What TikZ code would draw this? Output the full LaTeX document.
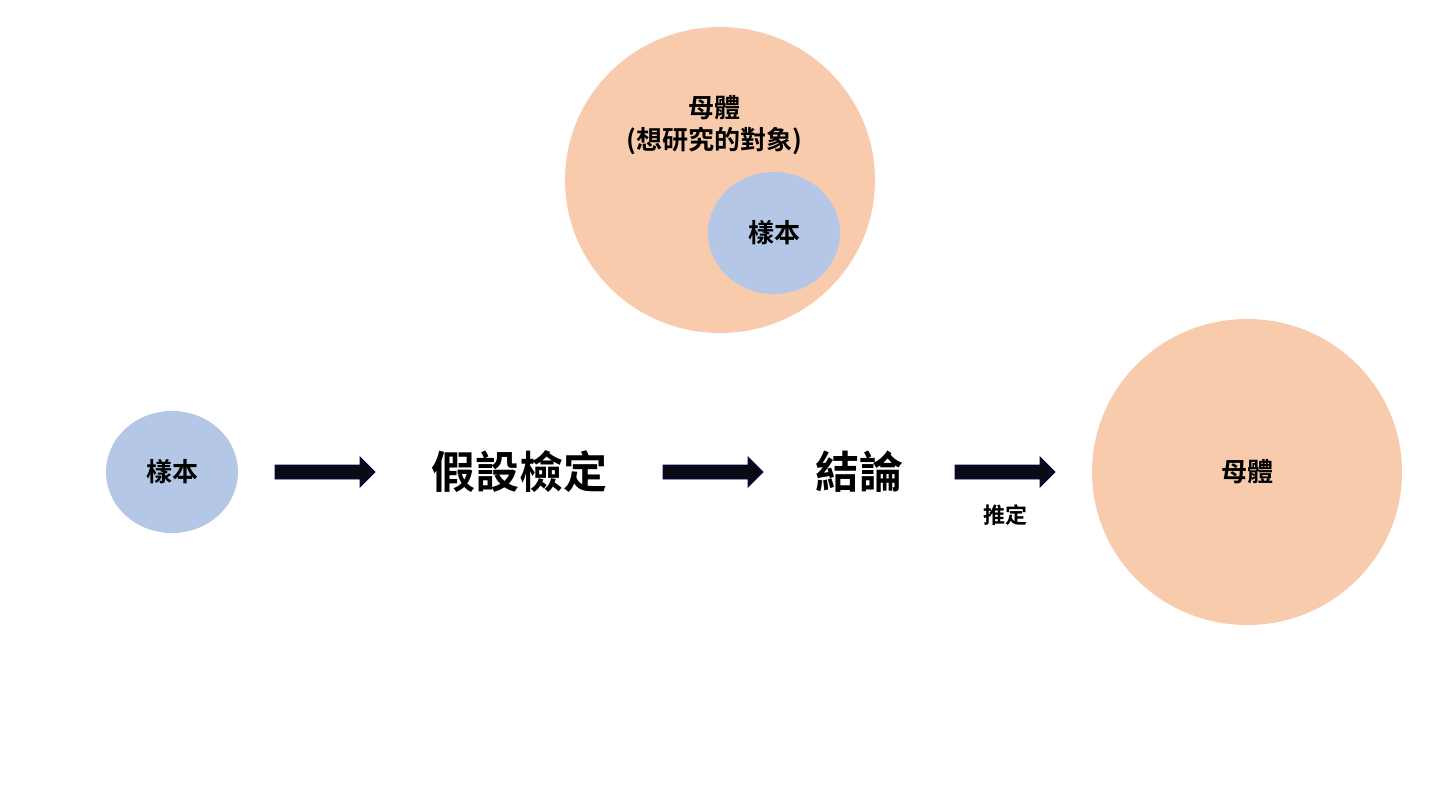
\documentclass[tikz,border=0pt]{standalone}
\usepackage{fontspec}
\newfontfamily\cjk{Noto Sans CJK TC}[BoldFont={Noto Sans CJK TC Bold}]
\definecolor{peach}{HTML}{F8CBAD}
\definecolor{bluish}{HTML}{B4C7E7}
\definecolor{arr}{HTML}{0A0A14}
\begin{document}
\begin{tikzpicture}[x=1pt,y=-1pt,
  txt/.style={font=\cjk\bfseries\fontsize{26}{32}\selectfont,align=center,inner sep=0},
  big/.style={font=\cjk\bfseries\fontsize{44}{50}\selectfont,inner sep=0},
  fatarrow/.style={fill=arr,draw=arr!70!blue,line width=0.8pt}]
\useasboundingbox (0,0) rectangle (1440,807);
\fill[peach] (720,180) ellipse [x radius=155,y radius=153];
\fill[bluish] (774,233) ellipse [x radius=66,y radius=61];
\node[txt] (pop1) at (714,125) {母體\\(想研究的對象)};
\node[txt] (s1) at (774,233) {樣本};
\fill[bluish] (172,472) ellipse [x radius=66,y radius=61];
\node[txt] (s2) at (172,472) {樣本};
\node[big] (ht) at (519,472) {假設檢定};
\node[big] (cc) at (859,472) {結論};
\fill[peach] (1247,472) ellipse [x radius=155,y radius=153];
\node[txt] (pop2) at (1247,472) {母體};
\foreach \x in {275,663,955}{
  \draw[fatarrow] (\x,465) -- (\x+85,465) -- (\x+85,457) -- (\x+100,472) -- (\x+85,487) -- (\x+85,479) -- (\x,479) -- cycle;
}
\node[font=\cjk\bfseries\fontsize{22}{26}\selectfont,inner sep=0] (est) at (1005,515) {推定};
\end{tikzpicture}
\end{document}
